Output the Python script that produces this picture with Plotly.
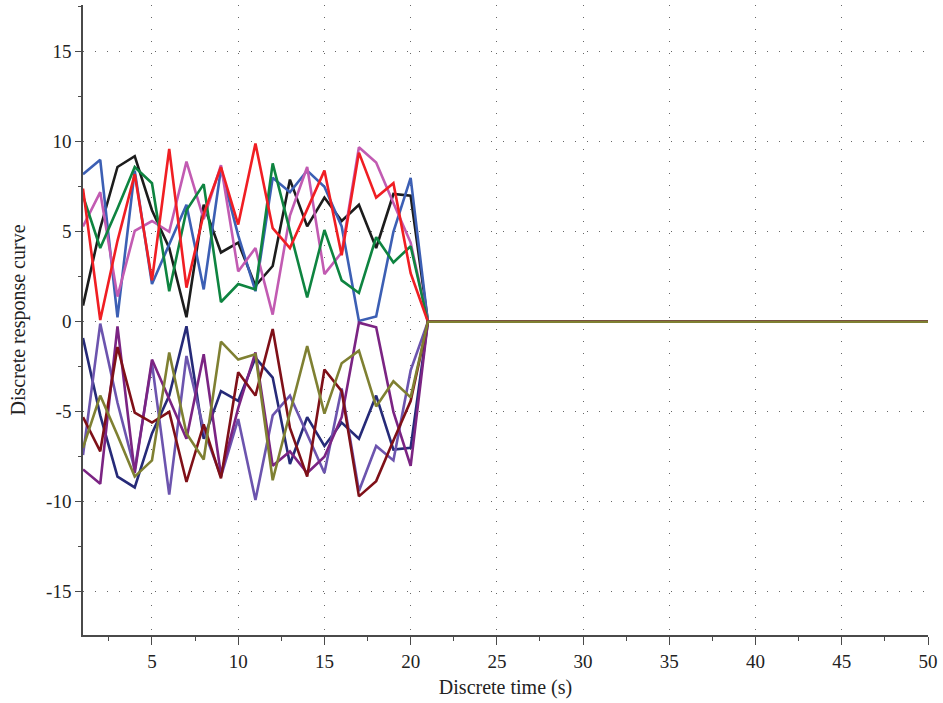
import plotly.graph_objects as go

t = list(range(1, 51))
zeros_tail = [0.0] * 29  # t = 22..50

red = [7.4, 0.1, 4.5, 8.2, 2.3, 9.6, 1.9, 6.0, 8.6, 5.4, 9.9, 5.2, 4.1, 6.2, 8.4, 3.7, 9.4, 6.9, 7.7, 2.7, 0.0] + zeros_tail
blue = [8.2, 9.0, 0.25, 8.4, 2.1, 4.3, 6.5, 1.8, 8.5, 4.8, 1.7, 8.0, 7.2, 8.4, 7.5, 5.3, 0.05, 0.3, 5.0, 8.0, 0.0] + zeros_tail
black = [0.9, 5.2, 8.6, 9.2, 6.2, 4.1, 0.25, 6.5, 3.85, 4.4, 2.0, 3.1, 7.9, 5.3, 6.9, 5.6, 6.5, 4.1, 7.1, 7.0, 0.0] + zeros_tail
green = [7.0, 4.1, 6.3, 8.6, 7.7, 1.7, 6.2, 7.65, 1.1, 2.1, 1.8, 8.8, 5.05, 1.35, 5.1, 2.3, 1.6, 4.7, 3.3, 4.2, 0.0] + zeros_tail
pink = [5.3, 7.2, 1.4, 5.05, 5.6, 5.0, 8.9, 5.7, 8.7, 2.8, 4.1, 0.4, 5.9, 8.6, 2.65, 3.85, 9.7, 8.85, 6.6, 4.4, 0.0] + zeros_tail

navy = [-0.9, -5.2, -8.6, -9.2, -6.2, -4.1, -0.25, -6.5, -3.85, -4.4, -2.0, -3.1, -7.9, -5.3, -6.9, -5.6, -6.5, -4.1, -7.1, -7.0, 0.0] + zeros_tail
lavender = [-7.4, -0.1, -4.5, -8.2, -2.3, -9.6, -1.9, -6.0, -8.6, -5.4, -9.9, -5.2, -4.1, -6.2, -8.4, -3.7, -9.4, -6.9, -7.7, -2.7, 0.0] + zeros_tail
plum = [-8.2, -9.0, -0.25, -8.4, -2.1, -4.3, -6.5, -1.8, -8.5, -4.8, -1.7, -8.0, -7.2, -8.4, -7.5, -5.3, -0.05, -0.3, -5.0, -8.0, 0.0] + zeros_tail
maroon = [-5.3, -7.2, -1.4, -5.05, -5.6, -5.0, -8.9, -5.7, -8.7, -2.8, -4.1, -0.4, -5.9, -8.6, -2.65, -3.85, -9.7, -8.85, -6.6, -4.4, 0.0] + zeros_tail
olive = [-7.0, -4.1, -6.3, -8.6, -7.7, -1.7, -6.2, -7.65, -1.1, -2.1, -1.8, -8.8, -5.05, -1.35, -5.1, -2.3, -1.6, -4.7, -3.3, -4.2, 0.0] + zeros_tail

series = [
    (black, "#1c1c1c"),
    (blue, "#3c5fb4"),
    (pink, "#c25bb2"),
    (green, "#0e8440"),
    (red, "#f01e23"),
    (navy, "#262a78"),
    (lavender, "#6c54ae"),
    (plum, "#7b2483"),
    (maroon, "#7f1018"),
    (olive, "#7f8032"),
]

x_ticks = [5, 10, 15, 20, 25, 30, 35, 40, 45, 50]
x_minor = [2.5, 7.5, 12.5, 17.5, 22.5, 27.5, 32.5, 37.5, 42.5, 47.5]
y_ticks = [-15, -10, -5, 0, 5, 10, 15]
y_tick_text = ["-15", "-10", "-5", "0", "5", "10", "15"]
y_minor = [-17.5, -12.5, -7.5, -2.5, 2.5, 7.5, 12.5, 17.5]

fig = go.Figure()
for vals, col in series:
    fig.add_trace(go.Scatter(x=t, y=vals, mode="lines",
                             line=dict(color=col, width=2.6), showlegend=False))

font_family = "Liberation Serif"
axis_col = "#4a4a4a"
fig.update_layout(
    width=943, height=703,
    margin=dict(l=83, r=13, t=5, b=68),
    plot_bgcolor="white", paper_bgcolor="white",
    font=dict(family=font_family, size=19, color="#222"),
)
fig.update_xaxes(
    range=[1, 50], tickvals=x_ticks,
    showline=True, linecolor=axis_col, linewidth=1.5,
    ticks="outside", ticklen=8, tickcolor=axis_col,
    minor=dict(tickvals=x_minor, ticks="outside", ticklen=4, tickcolor=axis_col, showgrid=False),
    showgrid=True, gridcolor="#666", gridwidth=1, griddash="1px,11px",
    zeroline=False,
    title=dict(text="Discrete time (s)", font=dict(family=font_family, size=20), standoff=9),
)
fig.update_yaxes(
    range=[-17.4, 17.6], tickvals=y_ticks, ticktext=y_tick_text,
    showline=True, linecolor=axis_col, linewidth=1.5,
    ticks="outside", ticklen=6, tickcolor=axis_col,
    minor=dict(tickvals=y_minor, ticks="outside", ticklen=3, tickcolor=axis_col, showgrid=False),
    showgrid=True, gridcolor="#666", gridwidth=1, griddash="1px,11px",
    zeroline=False,
    title=dict(text="Discrete response curve", font=dict(family=font_family, size=20), standoff=15),
)

fig.write_html("out.html")
